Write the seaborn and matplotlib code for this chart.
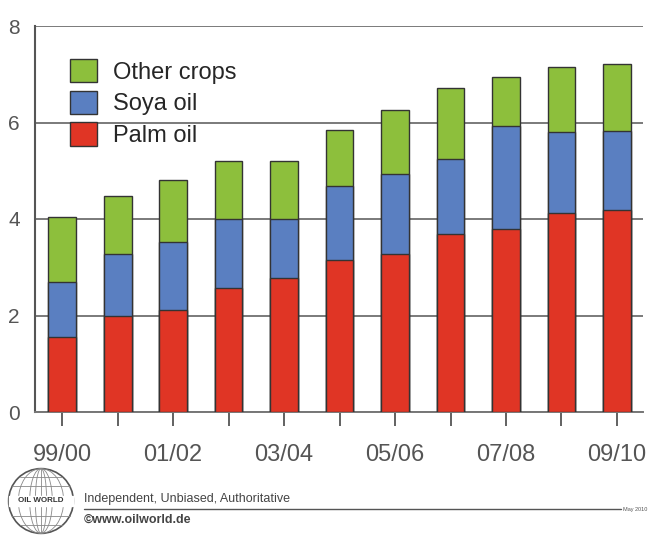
import matplotlib
matplotlib.use("Agg")
import matplotlib.pyplot as plt
from matplotlib.patches import Patch, Circle, Ellipse
import seaborn as sns
import pandas as pd
import numpy as np

# ---- data ----
seasons = ["99/00", "00/01", "01/02", "02/03", "03/04", "04/05",
           "05/06", "06/07", "07/08", "08/09", "09/10"]
palm_oil = [1.56, 2.00, 2.12, 2.57, 2.78, 3.15, 3.28, 3.69, 3.80, 4.13, 4.19]
soya_oil = [1.14, 1.28, 1.40, 1.43, 1.22, 1.54, 1.66, 1.56, 2.13, 1.68, 1.64]
other_crops = [1.35, 1.19, 1.28, 1.20, 1.20, 1.16, 1.31, 1.47, 1.02, 1.35, 1.39]
shown_labels = ["99/00", "01/02", "03/04", "05/06", "07/08", "09/10"]

df = pd.DataFrame({"season": seasons, "palm": palm_oil,
                   "soya": soya_oil, "other": other_crops})
df["palm_soya"] = df["palm"] + df["soya"]
df["total"] = df["palm_soya"] + df["other"]

c_other = "#8dbf3c"
c_soya = "#5a7fc1"
c_palm = "#e03525"
edge = "#333333"

sns.set_style("white")
plt.rcParams["font.family"] = ["Liberation Sans", "DejaVu Sans"]

W, H = 651, 536
fig = plt.figure(figsize=(W / 100, H / 100), dpi=100)
ax = fig.add_axes([35 / W, (H - 412) / H, (643 - 35) / W, (412 - 26) / H])

for col, colr in [("total", c_other), ("palm_soya", c_soya), ("palm", c_palm)]:
    sns.barplot(data=df, x="season", y=col, color=colr, width=0.5,
                edgecolor=edge, linewidth=1.0, saturation=1, ax=ax, zorder=3)

ax.set_xlim(-0.49, 10.47)
ax.set_ylim(0, 8)
ax.set_yticks([0, 2, 4, 6, 8])
ax.yaxis.grid(True, color="#7a7a7a", linewidth=1.4, zorder=0)
ax.set_axisbelow(True)
ax.set_xlabel("")
ax.set_ylabel("")
xt = list(range(len(seasons)))
ax.set_xticks(xt)
ax.set_xticklabels([s if s in shown_labels else "" for s in seasons])
for s in ["top", "right"]:
    ax.spines[s].set_visible(False)
ax.spines["left"].set_color("#555555")
ax.spines["left"].set_linewidth(1.5)
ax.spines["bottom"].set_color("#777777")
ax.spines["bottom"].set_linewidth(1.4)
ax.tick_params(axis="x", length=10, width=1.3, color="#555555", direction="out",
               bottom=True, labelsize=17, labelcolor="#555555", pad=13)
ax.tick_params(axis="y", length=0, labelsize=15, labelcolor="#555555", pad=11)

handles = [Patch(facecolor=c_other, edgecolor=edge, label="Other crops"),
           Patch(facecolor=c_soya, edgecolor=edge, label="Soya oil"),
           Patch(facecolor=c_palm, edgecolor=edge, label="Palm oil")]
ax.legend(handles=handles, loc="upper left", bbox_to_anchor=(0.057, 0.915),
          frameon=False, fontsize=17, handlelength=1.15, handleheight=1.15,
          labelspacing=0.3, handletextpad=0.7, borderpad=0, borderaxespad=0)

# ---- footer ----
lax = fig.add_axes([5 / W, (H - 535) / H, 72 / W, 68 / H])
lax.set_xlim(-1.05, 1.05)
lax.set_ylim(-1.05, 1.05)
lax.set_aspect("equal")
lax.axis("off")
lax.add_patch(Circle((0, 0), 1, fill=False, edgecolor="#555555", lw=1.2))
for w in [0.35, 0.7, 1.4]:
    lax.add_patch(Ellipse((0, 0), w, 2, fill=False, edgecolor="#888888", lw=0.6))
lax.plot([0, 0], [-1, 1], color="#888888", lw=0.6)
for yy in [-0.75, -0.45, 0.45, 0.75]:
    xx = np.sqrt(1 - yy ** 2)
    lax.plot([-xx, xx], [yy, yy], color="#888888", lw=0.6)
lax.add_patch(plt.Rectangle((-1, -0.15), 2, 0.3, color="white", zorder=3))
lax.text(0, 0, "OIL WORLD", ha="center", va="center", fontsize=5.8,
         fontweight="bold", color="#333333", zorder=4)

fig.text(84 / W, 1 - 499 / H, "Independent, Unbiased, Authoritative",
         fontsize=9, color="#444444", va="center", ha="left")
fig.add_artist(plt.Line2D([84 / W, 621 / W], [1 - 509 / H, 1 - 509 / H],
                          color="#555555", lw=1.0, transform=fig.transFigure))
fig.text(84 / W, 1 - 520 / H, "\u00a9www.oilworld.de", fontsize=9,
         fontweight="bold", color="#444444", va="center", ha="left")
fig.text(623 / W, 1 - 509 / H, "May 2010", fontsize=4, color="#555555",
         va="center", ha="left")

fig.savefig("out.png", dpi=100)
